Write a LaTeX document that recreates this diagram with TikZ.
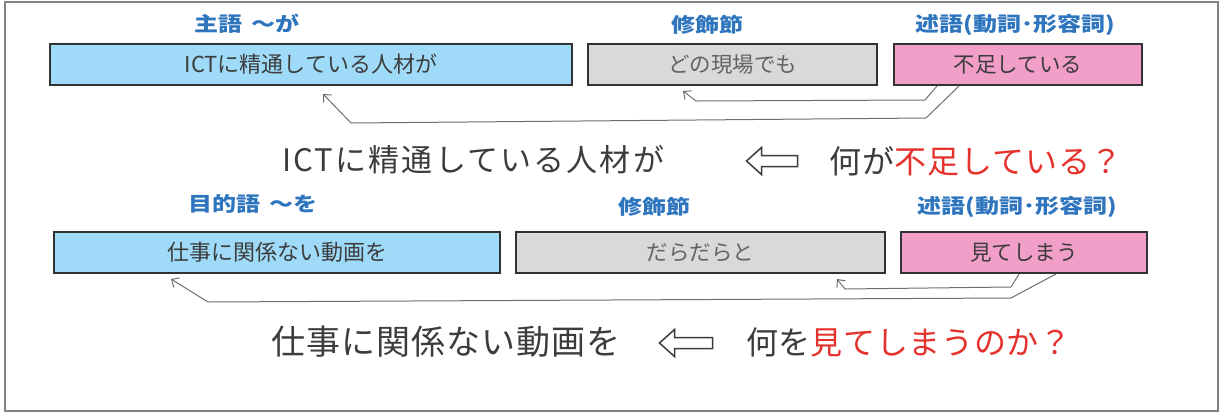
\documentclass[tikz,border=0pt]{standalone}
\usepackage{fontspec}
\setmainfont{Noto Sans CJK JP}
\newfontfamily\lblfont{Noto Sans CJK JP}[FakeStretch=1.2]
\usetikzlibrary{arrows.meta}
\definecolor{bluefill}{RGB}{159,219,248}
\definecolor{grayfill}{RGB}{217,217,217}
\definecolor{pinkfill}{RGB}{241,158,200}
\definecolor{lblblue}{RGB}{46,117,190}
\definecolor{redtxt}{RGB}{230,50,45}
\definecolor{darktxt}{RGB}{60,60,60}
\definecolor{boxline}{RGB}{50,50,50}
\definecolor{connc}{RGB}{110,110,110}
\definecolor{framec}{RGB}{130,130,130}
\tikzset{
  wordbox/.style={draw=boxline, line width=2pt, minimum height=41pt, inner sep=0pt,
    text=darktxt, font=\fontsize{21.5pt}{25pt}\selectfont},
  bluebox/.style={wordbox, fill=bluefill, font=\fontsize{22pt}{26pt}\selectfont},
  graybox/.style={wordbox, fill=grayfill, text=darktxt!80},
  pinkbox/.style={wordbox, fill=pinkfill},
  rolelabel/.style={inner sep=0pt, text=lblblue, font=\lblfont\bfseries\fontsize{20pt}{24pt}\selectfont},
  bigtext/.style={inner sep=0pt, anchor=west, text=darktxt},
  hollowarrow/.style={draw=darktxt, line width=1.5pt, line join=miter, fill=white},
  conn/.style={draw=connc, line width=1pt, line join=round,
    -{Straight Barb[length=6pt,width=11pt,line width=1pt]}}
}
\newcommand{\hollowleft}[2]{%
  \begin{scope}[shift={(#1)}]
    \draw[hollowarrow] (-#2/2,0) -- (-#2/2+15,-13.5) -- (-#2/2+15,-5.5) -- (#2/2,-5.5)
      -- (#2/2,5.5) -- (-#2/2+15,5.5) -- (-#2/2+15,13.5) -- cycle;
  \end{scope}}
\begin{document}
\begin{tikzpicture}[x=1pt,y=-1pt]
\useasboundingbox (0,0) rectangle (1224,416);
\draw[framec, line width=1.3pt] (5,2) rectangle (1218,411);

% Row 1
\node[rolelabel] (l1a) at (247,24) {主語\hspace{4pt} ～が};
\node[rolelabel] (l1b) at (707,25) {修飾節};
\node[rolelabel] (l1c) at (1015,25) {述語(動詞･形容詞)};
\node[bluebox, minimum width=522pt] (b1) at (311,64.5) {ICTに精通している人材が};
\node[graybox, minimum width=289pt] (g1) at (732.5,64.5) {どの現場でも};
\node[pinkbox, minimum width=248pt] (p1) at (1018,64.5) {不足している};

\draw[conn] ([xshift=44pt]p1.south west) -- (925,100) -- (696,101) -- ([xshift=96pt,yshift=-5pt]g1.south west);
\draw[conn] ([xshift=66pt]p1.south west) -- (926,118) -- (351,123) -- ([xshift=274pt,yshift=-8pt]b1.south west);

\node[bigtext, font=\fontsize{31pt}{36pt}\selectfont\addfontfeature{LetterSpace=7}] (t1) at (282,160) {ICTに精通している人材が};
\coordinate (h1) at (772,161);
\hollowleft{h1}{51}
\node[bigtext, font=\fontsize{32pt}{36pt}\selectfont\addfontfeature{LetterSpace=3}] (t1b) at (829,161) {何が\textcolor{redtxt}{不足している？}};

% Row 2
\node[rolelabel] (l2a) at (253,204) {目的語\hspace{4pt} ～を};
\node[rolelabel] (l2b) at (654,207) {修飾節};
\node[rolelabel] (l2c) at (1017,207) {述語(動詞･形容詞)};
\node[bluebox, minimum width=446pt] (b2) at (277,252.5) {仕事に関係ない動画を};
\node[graybox, minimum width=369pt] (g2) at (700.5,252.5) {だらだらと};
\node[pinkbox, minimum width=246pt] (p2) at (1024,252.5) {見てしまう};

\draw[conn] ([xshift=119pt]p2.south west) -- (1011,287) -- (845,289) -- ([xshift=322pt,yshift=-5pt]g2.south west);
\draw[conn] ([xshift=156pt]p2.south west) -- (1011,298) -- (208,302) -- ([xshift=118pt,yshift=-5pt]b2.south west);

\node[bigtext, font=\fontsize{34pt}{40pt}\selectfont\addfontfeature{LetterSpace=3}] (t2) at (271,342) {仕事に関係ない動画を};
\coordinate (h2) at (686,343);
\hollowleft{h2}{53}
\node[bigtext, font=\fontsize{32pt}{38pt}\selectfont\addfontfeature{LetterSpace=2}] (t2b) at (746,342) {何を\textcolor{redtxt}{見てしまうのか？}};
\end{tikzpicture}
\end{document}
